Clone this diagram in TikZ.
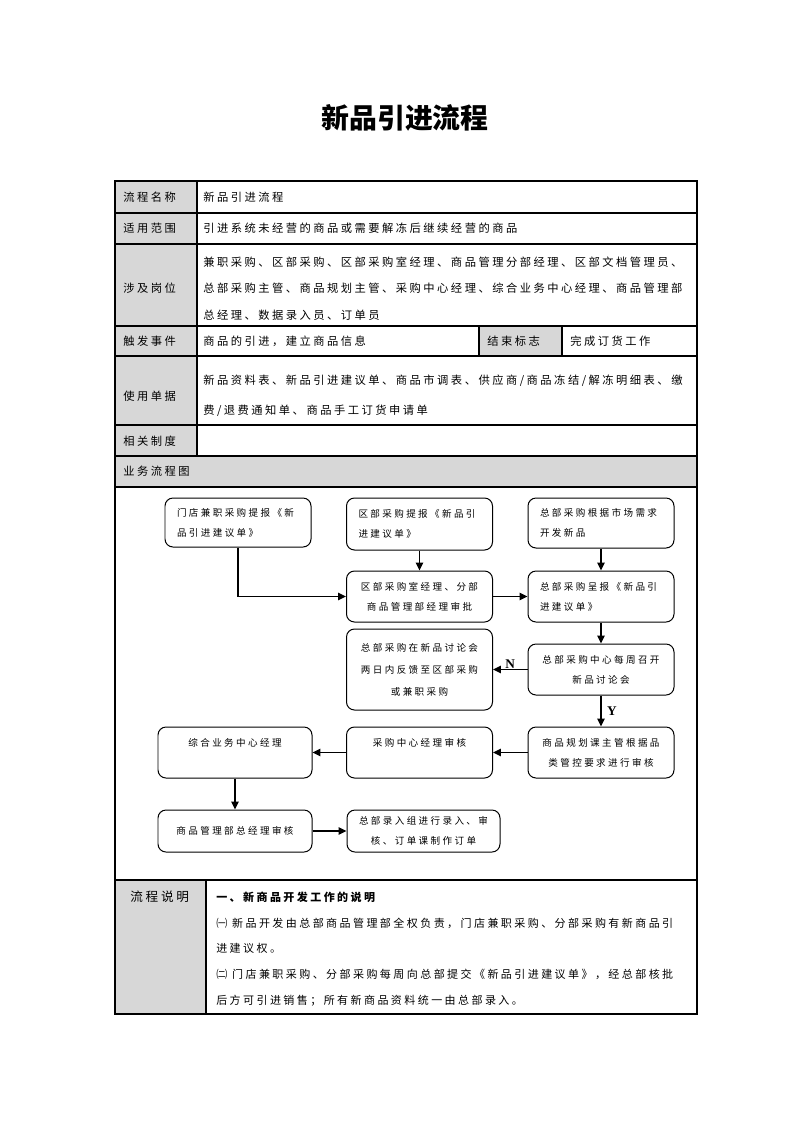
\documentclass[tikz,border=0pt]{standalone}
\usepackage{fontspec}
\usetikzlibrary{arrows.meta}
\usetikzlibrary{calc}

\setmainfont{Liberation Serif}
\newfontfamily\cjk[LetterSpace=22]{Noto Sans CJK SC}
\newfontfamily\cjkflow[LetterSpace=25]{Noto Sans CJK SC}
\newfontfamily\cjktitle{Noto Sans CJK SC}
\newlength\pxu
\setlength\pxu{0.26482mm}
\definecolor{cellgray}{RGB}{215,215,215}

\tikzset{
  tableline/.style={line width=0.8pt},
  cell/.style={anchor=west, inner sep=0pt, align=left, font=\cjk\fontsize{8.5}{20}\selectfont},
  box/.style={draw, line width=0.75pt, rounded corners=8\pxu, minimum width=146\pxu,
    minimum height=51\pxu, inner sep=0pt, align=center, font=\cjkflow\fontsize{7.2}{15}\selectfont},
  leftbox/.style={box, text width=122\pxu, align=left},
  flow/.style={line width=1.4pt, -{Triangle[length=6pt, width=5.5pt]}},
  yn/.style={inner sep=1pt, font=\bfseries\fontsize{10}{12}\selectfont}
}

\begin{document}
\begin{tikzpicture}[x=\pxu, y=-\pxu]
  \useasboundingbox (0,0) rectangle (793,1122);

  % title
  \node[font=\cjktitle\bfseries\fontsize{21}{25}\selectfont] (title) at (405,118) {新品引进流程};

  % table
  \fill[cellgray] (115,181) rectangle (197,456);
  \fill[cellgray] (479,326) rectangle (562,356);
  \fill[cellgray] (115,456) rectangle (697,487);
  \fill[cellgray] (115,880) rectangle (206,1014);
  \draw[tableline] (115,181) rectangle (697,1014);
  \foreach \y in {213,244,326,356,425,456,487,880}
    \draw[tableline] (115,\y) -- (697,\y);
  \draw[tableline] (197,181) -- (197,456);
  \draw[tableline] (479,326) -- (479,356);
  \draw[tableline] (562,326) -- (562,356);
  \draw[tableline] (206,880) -- (206,1014);

  \node[cell] (nameL) at (123,197) {流程名称};
  \node[cell] (nameT) at (203,197) {新品引进流程};
  \node[cell] (scopeL) at (123,228) {适用范围};
  \node[cell] (scopeT) at (203,228) {引进系统未经营的商品或需要解冻后继续经营的商品};
  \node[cell] (postL) at (123,288.5) {涉及岗位};
  \node[cell, font=\cjk\fontsize{8.5}{20}\selectfont] (postT) at (203,288.5)
    {兼职采购、区部采购、区部采购室经理、商品管理分部经理、区部文档管理员、\\
     总部采购主管、商品规划主管、采购中心经理、综合业务中心经理、商品管理部\\
     总经理、数据录入员、订单员};
  \node[cell] (trigL) at (123,341) {触发事件};
  \node[cell] (trigT) at (203,341) {商品的引进，建立商品信息};
  \node[cell] (endL) at (487,341) {结束标志};
  \node[cell] (endT) at (570,341) {完成订货工作};
  \node[cell] (formL) at (123,396) {使用单据};
  \node[cell, font=\cjk\fontsize{8.5}{22.5}\selectfont] (formT) at (203,396)
    {新品资料表、新品引进建议单、商品市调表、供应商/商品冻结/解冻明细表、缴\\
     费/退费通知单、商品手工订货申请单};
  \node[cell] (ruleL) at (123,441) {相关制度};
  \node[cell] (chartL) at (123,471) {业务流程图};
  \node[cell, font=\cjk\fontsize{9.5}{12}\selectfont] (noteL) at (130,897) {流程说明};
  \node[cell, font=\cjk\fontsize{8.3}{19.5}\selectfont] (noteT) at (216,949)
    {{\bfseries 一、新商品开发工作的说明}\\
     ㈠ 新品开发由总部商品管理部全权负责，门店兼职采购、分部采购有新商品引\\
     进建议权。\\
     ㈡ 门店兼职采购、分部采购每周向总部提交《新品引进建议单》，经总部核批\\
     后方可引进销售；所有新商品资料统一由总部录入。};

  % flow chart
  \node[leftbox, minimum height=49\pxu] (mdsb) at (238,522.5) {门店兼职采购提报《新\\品引进建议单》};
  \node[leftbox, minimum height=52\pxu] (qbsb) at (419.5,524) {区部采购提报《新品引\\进建议单》};
  \node[leftbox, minimum height=50\pxu] (zbkf) at (601,523) {总部采购根据市场需求\\开发新品};
  \node[box] (qbsp) at (419.5,596.5) {区部采购室经理、分部\\商品管理部经理审批};
  \node[leftbox] (zbcb) at (601,596.5) {总部采购呈报《新品引\\进建议单》};
  \node[box, minimum height=81\pxu, font=\cjkflow\fontsize{7.2}{16.5}\selectfont] (fkqb) at (419.5,669.5)
    {总部采购在新品讨论会\\两日内反馈至区部采购\\或兼职采购};
  \node[box] (tlh) at (601,669.5) {总部采购中心每周召开\\新品讨论会};
  \node[box, minimum width=154\pxu] (zhyw) at (235,752.5) {综合业务中心经理\\\mbox{}};
  \node[box] (cgsh) at (419.5,752.5) {采购中心经理审核\\\mbox{}};
  \node[box] (ghsh) at (601,752.5) {商品规划课主管根据品\\类管控要求进行审核};
  \node[box, minimum width=154\pxu, minimum height=42\pxu] (zjsh) at (235,831) {商品管理部总经理审核};
  \node[box, minimum width=153\pxu, minimum height=42\pxu] (lrdd) at (423.5,831) {总部录入组进行录入、审\\核、订单课制作订单};

  \draw[flow] (mdsb.south) |- (qbsp.west);
  \draw[flow] (qbsb) -- (qbsp);
  \draw[flow] (zbkf) -- (zbcb);
  \draw[flow] (qbsp) -- (zbcb);
  \draw[flow] (zbcb) -- (tlh);
  \draw[flow] (tlh) -- node[yn, above, inner sep=0pt] {N} (fkqb);
  \draw[flow] (tlh) -- node[yn, right, inner sep=4pt] {Y} (ghsh);
  \draw[flow] (ghsh) -- (cgsh);
  \draw[flow] (cgsh) -- (zhyw);
  \draw[flow] (zhyw) -- (zjsh);
  \draw[flow] (zjsh) -- (lrdd);
\end{tikzpicture}
\end{document}
